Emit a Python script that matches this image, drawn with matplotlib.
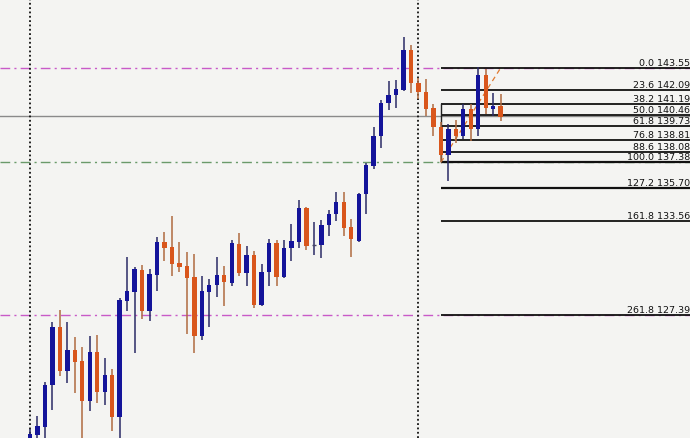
import matplotlib
matplotlib.use("Agg")
import matplotlib.pyplot as plt
import matplotlib.transforms as mtransforms

# ---- candle data (price units) ----
opens = [119.22, 119.55, 120.07, 122.82, 126.61, 123.74, 125.11, 124.39, 121.77, 124.98,
         122.36, 123.48, 120.73, 128.31, 128.90, 130.34, 127.66, 130.02, 132.17, 131.85,
         130.80, 130.60, 129.88, 126.03, 128.90, 129.36, 130.02, 129.49, 132.04, 130.15,
         131.32, 128.05, 130.21, 132.11, 129.88, 131.78, 132.17, 134.40, 131.98, 131.98,
         133.28, 134.00, 134.79, 133.15, 132.24, 135.31, 137.14, 139.11, 141.26, 141.79,
         142.11, 144.73, 142.57, 141.98, 140.94, 139.69, 137.86, 139.56, 139.11, 140.87,
         139.56, 143.09, 140.87, 141.07]
closes = [119.62, 120.14, 122.82, 126.61, 123.74, 125.11, 124.33, 121.77, 124.98, 122.36,
          123.48, 120.73, 128.38, 128.97, 130.41, 127.66, 130.08, 132.17, 131.78, 130.73,
          130.54, 129.82, 126.03, 128.97, 129.36, 130.02, 129.56, 132.11, 130.15, 131.32,
          128.05, 130.21, 132.11, 129.88, 131.78, 132.24, 134.40, 131.91, 131.98, 133.28,
          134.00, 134.79, 133.09, 132.37, 135.31, 137.21, 139.11, 141.26, 141.79, 142.18,
          144.73, 142.57, 141.98, 140.87, 139.69, 137.86, 139.56, 139.11, 140.87, 139.56,
          143.09, 140.94, 141.07, 140.35]
highs = [119.94, 120.79, 123.02, 126.94, 127.73, 126.94, 125.96, 125.31, 126.03, 126.09,
         124.59, 123.87, 128.51, 131.19, 130.54, 130.67, 130.41, 132.50, 132.83, 133.87,
         132.17, 131.52, 131.39, 129.95, 129.75, 131.19, 130.60, 132.30, 132.76, 131.91,
         131.58, 130.73, 132.37, 132.30, 132.30, 133.35, 134.92, 134.45, 133.48, 133.61,
         134.27, 135.44, 135.44, 133.68, 135.35, 137.34, 139.69, 141.46, 142.70, 142.77,
         145.58, 145.06, 142.90, 142.83, 141.20, 140.02, 139.89, 140.15, 141.20, 141.20,
         143.62, 143.49, 141.92, 141.85]
lows = [119.16, 119.29, 119.16, 121.19, 123.41, 122.95, 122.30, 119.16, 121.12, 121.64,
        121.51, 119.81, 119.16, 127.66, 124.91, 127.14, 127.01, 128.97, 130.93, 129.95,
        130.21, 126.16, 124.91, 125.76, 126.61, 128.58, 127.99, 129.30, 129.95, 129.30,
        127.86, 127.99, 129.30, 129.30, 129.85, 130.93, 131.78, 131.65, 131.32, 131.13,
        132.57, 133.55, 132.57, 131.19, 132.17, 134.00, 136.95, 138.32, 140.81, 140.94,
        142.05, 141.92, 141.53, 140.41, 139.11, 137.38, 136.16, 138.65, 138.91, 138.78,
        139.11, 140.54, 140.41, 140.09]

# ---- Fibonacci object ----
fib_ratios = [0.0, 23.6, 38.2, 50.0, 61.8, 76.8, 88.6, 100.0, 127.2, 161.8, 261.8]
fib_prices = [143.552, 142.096, 141.195, 140.467, 139.739, 138.814, 138.085, 137.382,
              135.704, 133.569, 127.398]
fib_start_idx = 55
trend_idx = [55, 63]
trend_price = [137.382, 143.552]

# ---- other chart objects ----
separator_idx = [0, 52]
magenta_levels = [143.552, 127.398]
green_levels = [137.382]
gray_levels = [140.43]

BG = '#f4f4f2'
BULL = '#14149a'
BEAR = '#d9561c'
BULL_WICK = '#2a2a66'
BEAR_WICK = '#b06a40'

fig = plt.figure(figsize=(6.9, 4.39), dpi=100)
fig.patch.set_facecolor(BG)
ax = fig.add_axes([0, 0, 1, 1])
ax.set_facecolor(BG)
ax.set_xlim(-4.016, 88.35)
ax.set_ylim(119.354, 148.065)
ax.axis('off')

# horizontal objects
for lv in magenta_levels:
    ax.axhline(lv, color='#c85ac8', lw=1.0, linestyle=(0, (7, 3, 1.5, 3)), zorder=1)
for lv in green_levels:
    ax.axhline(lv, color='#6a9a6a', lw=1.0, linestyle=(0, (7, 3, 1.5, 3)), zorder=1)
for lv in gray_levels:
    ax.axhline(lv, color='#8a8a8a', lw=1.0, zorder=1)

# period separators
for s in separator_idx:
    ax.axvline(s, color='#111111', lw=1.3, linestyle=(0, (1, 1.4)), zorder=1)

# fib levels
right_edge = ax.get_xlim()[1]
for r, p in zip(fib_ratios, fib_prices):
    lw = 1.6 if r in (100.0, 127.2) else 1.3
    ax.plot([fib_start_idx, right_edge], [p, p], color='#111111', lw=lw,
            solid_capstyle='butt', zorder=2)
ax.plot([fib_start_idx, fib_start_idx], [fib_prices[2], fib_prices[7]],
        color='#222222', lw=1.0, zorder=2)
ax.plot(trend_idx, trend_price, color='#e07a30', lw=0.9, linestyle=(0, (4, 3)), zorder=2)

trans = mtransforms.blended_transform_factory(ax.transAxes, ax.transData)
trans = trans + mtransforms.ScaledTranslation(0, 2.2 / 72, fig.dpi_scale_trans)
for r, p in zip(fib_ratios, fib_prices):
    ax.text(696 / 690, p, f"{r:.1f} {p:.3f}", transform=trans, ha='right',
            va='baseline', fontsize=6.8, color='#111111', family='DejaVu Sans',
            zorder=5, clip_on=False)

# candles
w = 0.58
for i, (o, c, h, l) in enumerate(zip(opens, closes, highs, lows)):
    bull = c >= o
    ax.vlines(i, l, h, color=BULL_WICK if bull else BEAR_WICK, lw=1.1, zorder=3)
    body = abs(c - o)
    if body < 0.04:
        ax.hlines((o + c) / 2, i - w / 2, i + w / 2, color='#444466', lw=1.0, zorder=4)
    else:
        ax.bar(i, body, bottom=min(o, c), width=w, color=BULL if bull else BEAR,
               edgecolor='none', zorder=4)

fig.savefig('out.png', dpi=100, facecolor=BG)
